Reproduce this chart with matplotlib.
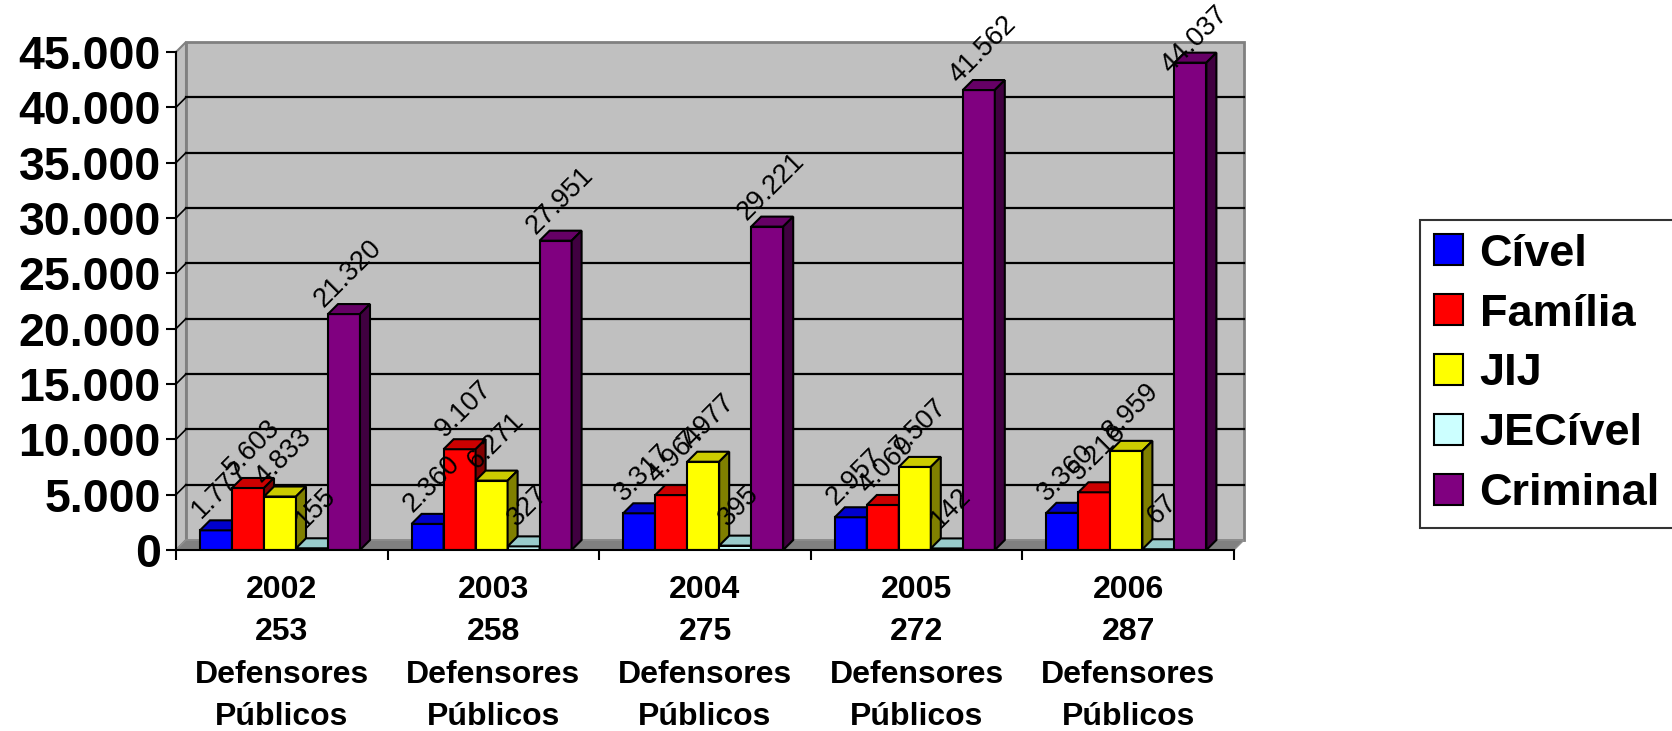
import matplotlib
matplotlib.use("Agg")
import matplotlib.pyplot as plt
from matplotlib.patches import Polygon, Rectangle, Patch
import numpy as np

plt.rcParams['font.family'] = ['Liberation Sans', 'DejaVu Sans']

# atendimentos por área, 2002-2006
anos = ['2002', '2003', '2004', '2005', '2006']
defensores = [253, 258, 275, 272, 287]
series = ['Cível', 'Família', 'JIJ', 'JECível', 'Criminal']
civel = [1777, 2360, 3317, 2957, 3360]
familia = [5603, 9107, 4964, 4069, 5216]
jij = [4833, 6271, 7977, 7507, 8959]
jecivel = [155, 327, 395, 142, 67]
criminal = [21320, 27951, 29221, 41562, 44037]
valores = [civel, familia, jij, jecivel, criminal]

# front, top and side colours of each series
front = ['#0000FF', '#FF0000', '#FFFF00', '#CCFFFF', '#800080']
top = ['#0000CC', '#CC0000', '#CCCC00', '#99CCCC', '#660066']
side = ['#000080', '#800000', '#808000', '#669999', '#400040']

ymax = 45000
ncat = len(anos)

fig = plt.figure(figsize=(16.72, 7.31), dpi=100)
ax = fig.add_axes([176 / 1672, 181 / 731, 1058 / 1672, 498 / 731])
ax.set_xlim(0, ncat)
ax.set_ylim(0, ymax)

# depth of the 3d box, in pixels turned into data units
ax_w = 1058
ax_h = 498
ax_top = 52
DX = 10 * ncat / ax_w
DY = 10 * ymax / ax_h

ax.set_facecolor('none')
for s in ['top', 'right']:
    ax.spines[s].set_visible(False)
for s in ['left', 'bottom']:
    ax.spines[s].set_linewidth(1.5)
    ax.spines[s].set_zorder(10)

wall = '#C0C0C0'
edge = '#808080'
# floor
ax.add_patch(Polygon([(0, 0), (ncat, 0), (ncat + DX, DY), (DX, DY)],
                     facecolor='#808080', edgecolor='#909090', lw=1, zorder=0.5, clip_on=False))
# left wall
ax.add_patch(Polygon([(0, 0), (DX, DY), (DX, ymax + DY), (0, ymax)],
                     facecolor=wall, edgecolor=edge, lw=1.5, zorder=0.4, clip_on=False))
# back wall
ax.add_patch(Rectangle((DX, DY), ncat, ymax, facecolor=wall, edgecolor=edge,
                       lw=2, zorder=0.3, clip_on=False))
for g in range(5000, ymax, 5000):
    ax.plot([DX, ncat + DX], [g + DY, g + DY], color='black', lw=1.6, zorder=0.6, clip_on=False)
    ax.plot([0, DX], [g, g + DY], color='black', lw=1.2, zorder=0.6, clip_on=False)

# clustered 3d columns
bw = 32 / (ax_w / ncat)
start = 24 / (ax_w / ncat)
z = 1.0
for i in range(ncat):
    for j, vals in enumerate(valores):
        v = vals[i]
        x0 = i + start + j * bw
        ax.bar(x0, v, width=bw, align='edge', color=front[j], edgecolor='black',
               lw=1.5, zorder=z)
        ax.add_patch(Polygon([(x0, v), (x0 + bw, v), (x0 + bw + DX, v + DY), (x0 + DX, v + DY)],
                             facecolor=top[j], edgecolor='black', lw=1.5, zorder=z, clip_on=False))
        ax.add_patch(Polygon([(x0 + bw, 0), (x0 + bw + DX, DY), (x0 + bw + DX, v + DY), (x0 + bw, v)],
                             facecolor=side[j], edgecolor='black', lw=1.5, zorder=z, clip_on=False))
        z += 0.01

# value labels, rotated; pulled down a little near the top edge
for i in range(ncat):
    for j, vals in enumerate(valores):
        v = vals[i]
        xc = i + start + (j + 0.5) * bw
        room = ax_top + (ymax - v) * ax_h / ymax
        up = min(40, room - 40)
        ax.annotate(f"{v:,}".replace(",", "."), (xc, v), xytext=(4, up),
                    textcoords='offset pixels', rotation=45, ha='center', va='center',
                    fontsize=19.5, color='black', zorder=20, annotation_clip=False)

# axes ticks
yt = np.arange(0, ymax + 1, 5000)
ax.set_yticks(yt)
ax.set_yticklabels([f"{int(t):,}".replace(",", ".") for t in yt])
ax.tick_params(axis='y', length=7, width=1.5, pad=4, labelsize=33.5)
for lab in ax.get_yticklabels():
    lab.set_fontweight('bold')

ax.set_xticks(np.arange(ncat + 1), minor=True)
ax.set_xticks(np.arange(ncat) + 0.5)
ax.set_xticklabels([f"{a}\n{d}\nDefensores\nPúblicos" for a, d in zip(anos, defensores)],
                   fontsize=23, fontweight='bold', linespacing=1.54)
ax.tick_params(axis='x', which='major', length=0, pad=18)
ax.tick_params(axis='x', which='minor', length=7, width=1.5)

handles = [Patch(facecolor=front[j], edgecolor='black', lw=1.5) for j in range(len(series))]
leg = fig.legend(handles, series, loc='upper left', bbox_to_anchor=(1420 / 1672, 1 - 220 / 731),
                 prop={'weight': 'bold', 'size': 32.5}, frameon=True, fancybox=False,
                 edgecolor='black', borderaxespad=0, borderpad=0.3, handlelength=0.66,
                 handleheight=0.66, handletextpad=0.36, labelspacing=0.42)
leg.get_frame().set_linewidth(1.5)

fig.savefig('out.png', dpi=100)
